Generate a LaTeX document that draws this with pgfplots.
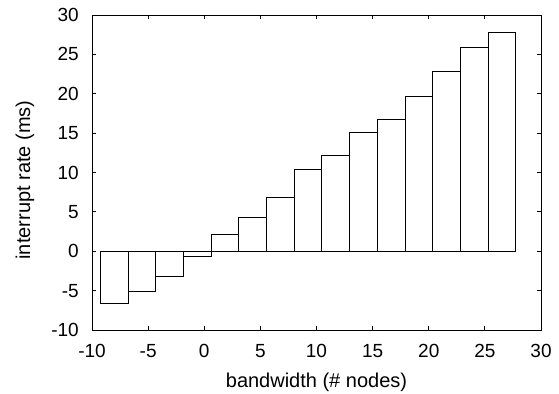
\documentclass[border=0pt]{standalone}
\usepackage{pgfplots}
\pgfplotsset{compat=1.18}
\usetikzlibrary{calc}
\usepackage{fontspec}
\setmainfont{Liberation Sans}
\begin{document}
\begin{tikzpicture}
\path[use as bounding box] (-92bp,-64bp) rectangle (467bp,330bp);
\begin{axis}[
  at={(0,0)}, anchor=south west,
  scale only axis, width=449bp, height=315bp,
  xmin=-10, xmax=30, ymin=-10, ymax=30,
  xtick={-10,-5,...,30}, ytick={-10,-5,...,30},
  tick align=inside, major tick length=4bp,
  axis line style={line width=0.8bp},
  tick style={line width=0.8bp, black},
  /pgf/number format/assume math mode=true,
  tick label style={font=\fontsize{19bp}{22bp}\selectfont, inner sep=0pt},
  xticklabel style={anchor=north, yshift=-14.5bp},
  yticklabel style={anchor=east, xshift=-13bp},
  label style={font=\fontsize{20bp}{24bp}\selectfont},
  xlabel={bandwidth (\# nodes)},
  ylabel={interrupt rate (ms)},
  xlabel style={at={(axis description cs:0.5,0)}, anchor=base, yshift=-57bp},
  ylabel style={at={($(axis description cs:0,0.5)+(-67bp,-7.5bp)$)}, anchor=center, rotate=0},
]
\addplot[ybar interval, draw=black, fill=white, line width=0.8bp] coordinates {
(-9.26,-6.67)
(-6.79,-5.06)
(-4.32,-3.15)
(-1.86,-0.70)
(0.61,2.12)
(3.08,4.34)
(5.55,6.88)
(8.02,10.39)
(10.48,12.21)
(12.95,15.14)
(15.42,16.70)
(17.89,19.66)
(20.36,22.88)
(22.82,25.84)
(25.29,27.83)
(27.76,0)
};
\end{axis}
\end{tikzpicture}
\end{document}
